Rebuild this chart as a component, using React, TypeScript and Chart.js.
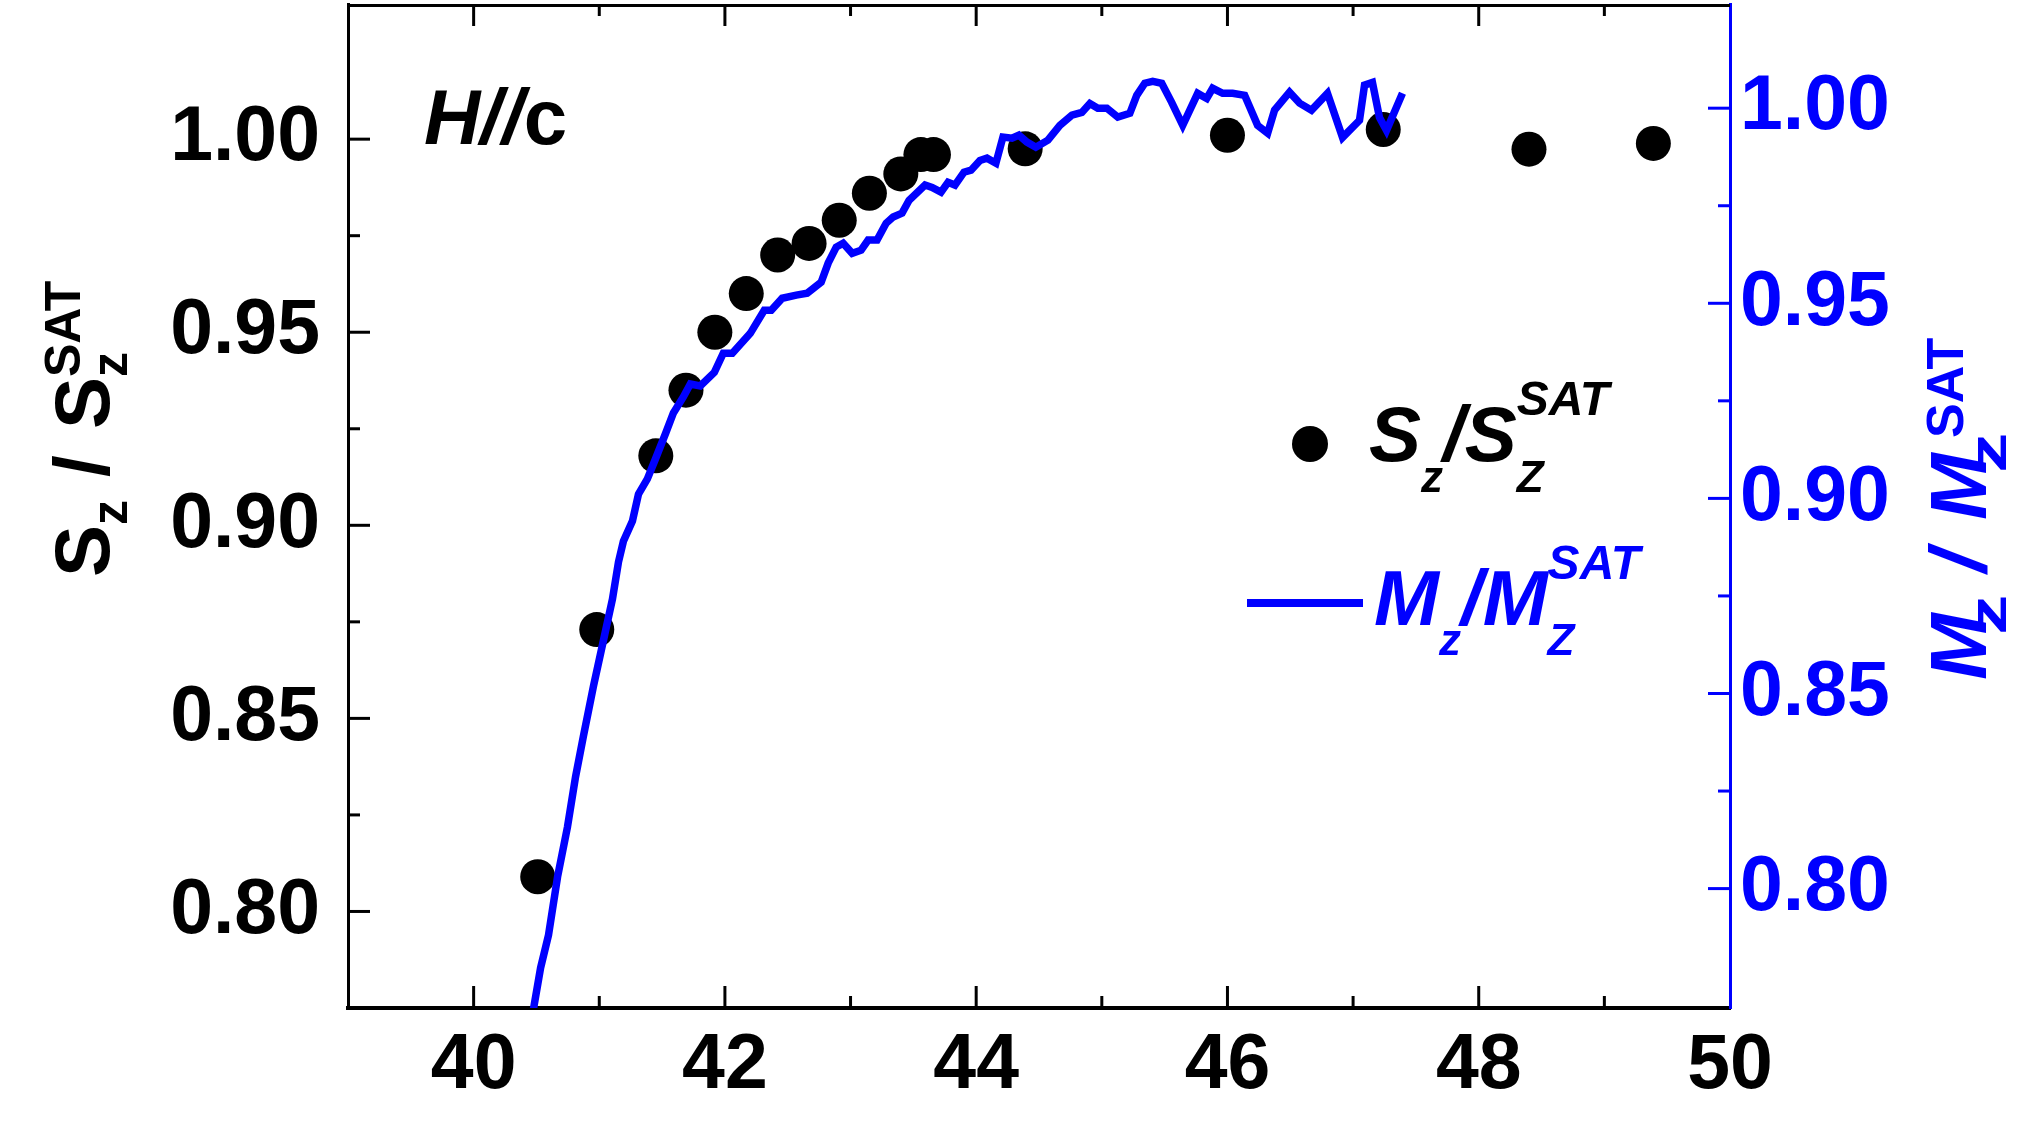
import React, { useEffect, useRef } from 'react';
import { Chart, registerables } from 'chart.js';

Chart.register(...registerables);

const FONT = '"Liberation Sans", Arial, sans-serif';
const BLUE = '#0000ff';

// S_z / S_z^SAT, black dots, left axis
const szField = [40.51, 40.98, 41.45, 41.69, 41.92, 42.17, 42.42, 42.67, 42.91, 43.15, 43.4, 43.56, 43.66, 44.39, 46.0, 47.24, 48.4, 49.39];
const szRatio = [0.809, 0.873, 0.918, 0.935, 0.95, 0.96, 0.97, 0.973, 0.979, 0.986, 0.991, 0.996, 0.996, 0.9975, 1.001, 1.0025, 0.9974, 0.9989];

// M_z / M_z^SAT, blue curve, right axis
const mzField = [
    40.467, 40.533, 40.596, 40.668, 40.747, 40.811, 40.874, 40.954, 41.025, 41.105,
    41.153, 41.192, 41.264, 41.312, 41.383, 41.447, 41.526, 41.59, 41.669, 41.725,
    41.804, 41.916, 41.987, 42.059, 42.202, 42.313, 42.369, 42.456, 42.568, 42.655,
    42.766, 42.822, 42.886, 42.941, 43.013, 43.084, 43.14, 43.211, 43.283, 43.339,
    43.41, 43.466, 43.593, 43.649, 43.72, 43.776, 43.831, 43.903, 43.959, 44.03,
    44.086, 44.157, 44.213, 44.285, 44.34, 44.404, 44.475, 44.571, 44.666, 44.762,
    44.841, 44.905, 44.968, 45.04, 45.127, 45.223, 45.278, 45.342, 45.405, 45.477,
    45.556, 45.644, 45.763, 45.835, 45.882, 45.962, 46.041, 46.137, 46.24, 46.32,
    46.375, 46.494, 46.574, 46.669, 46.796, 46.916, 47.051, 47.091, 47.154, 47.21,
    47.266, 47.393,
];
const mzRatio = [
    0.7674, 0.7797, 0.7881, 0.803, 0.8158, 0.8286, 0.8391, 0.8519, 0.8624, 0.8742,
    0.8837, 0.889, 0.8942, 0.9011, 0.905, 0.9101, 0.9165, 0.9219, 0.926, 0.9293,
    0.9288, 0.9323, 0.9372, 0.9372, 0.9423, 0.9482, 0.9482, 0.9513, 0.9521, 0.9526,
    0.9554, 0.9603, 0.9644, 0.9654, 0.9628, 0.9636, 0.9662, 0.9662, 0.9705, 0.9721,
    0.9731, 0.9764, 0.9803, 0.9797, 0.9785, 0.981, 0.9803, 0.9836, 0.9841, 0.9866,
    0.9872, 0.9859, 0.9926, 0.9923, 0.9931, 0.9913, 0.99, 0.9918, 0.9956, 0.9982,
    0.9989, 1.0012, 1.0, 1.0, 0.9977, 0.9987, 1.0033, 1.0064, 1.0069, 1.0064,
    1.0015, 0.9956, 1.0038, 1.0025, 1.0051, 1.0038, 1.0038, 1.0033, 0.9956, 0.9936,
    0.9995, 1.0041, 1.0013, 0.9995, 1.0038, 0.9925, 0.9969, 1.0059, 1.0066, 0.9976,
    0.9943, 1.0038,
];

const xLabels = ['40', '42', '44', '46', '48', '50'];
const yLabels = ['0.80', '0.85', '0.90', '0.95', '1.00'];

// text piece: at = absolute offset along the baseline, sx = horizontal stretch
type Seg = { t: string; f: string; dy?: number; at?: number; stay?: boolean; sx?: number };

const b = (s: number) => `bold ${s}px ${FONT}`;
const ib = (s: number) => `italic bold ${s}px ${FONT}`;

function rich(ctx: CanvasRenderingContext2D, segs: Seg[], x: number, y: number) {
    let cx = x;
    segs.forEach(s => {
        if (s.at !== undefined) cx = x + s.at;
        ctx.font = s.f;
        const sx = s.sx || 1;
        ctx.save();
        ctx.translate(cx, y + (s.dy || 0));
        ctx.scale(sx, 1);
        ctx.fillText(s.t, 0, 0);
        ctx.restore();
        if (!s.stay) cx += ctx.measureText(s.t).width * sx;
    });
}

// fixed box sizes so the plot area sits where it does in the figure
const fitBox = (w: number | null, h: number | null) => (s: any) => {
    if (w !== null) s.width = w;
    if (h !== null) s.height = h;
    s.paddingTop = 0;
    s.paddingBottom = 0;
    s.paddingLeft = 0;
    s.paddingRight = 0;
};

const decorations = {
    id: 'decorations',
    afterDraw(chart: any) {
        const { ctx, chartArea: a, scales } = chart;
        const seg = (x1: number, y1: number, x2: number, y2: number) => {
            ctx.beginPath();
            ctx.moveTo(x1, y1);
            ctx.lineTo(x2, y2);
            ctx.stroke();
        };
        ctx.save();
        ctx.lineCap = 'butt';

        // top frame
        ctx.strokeStyle = '#000';
        ctx.lineWidth = 3;
        seg(a.left, a.top + 1.5, a.right, a.top + 1.5);

        // inward ticks
        scales.x.ticks.forEach((t: any) => {
            const px = scales.x.getPixelForValue(t.value);
            if (px < a.left + 3 || px > a.right - 3) return;
            const len = t.label ? 22 : 12;
            seg(px, a.bottom, px, a.bottom - len);
            seg(px, a.top, px, a.top + len);
        });
        scales.y.ticks.forEach((t: any) => {
            const py = scales.y.getPixelForValue(t.value);
            if (py < a.top + 3 || py > a.bottom - 3) return;
            seg(a.left, py, a.left + (t.label ? 22 : 12), py);
        });
        ctx.strokeStyle = BLUE;
        scales.y2.ticks.forEach((t: any) => {
            const py = scales.y2.getPixelForValue(t.value);
            if (py < a.top + 3 || py > a.bottom - 3) return;
            seg(a.right, py, a.right - (t.label ? 22 : 12), py);
        });

        ctx.textAlign = 'left';
        ctx.textBaseline = 'alphabetic';

        // H//c
        ctx.fillStyle = '#000';
        rich(ctx, [{ t: 'H', f: ib(78) }, { t: '//', f: ib(78) }, { t: 'c', f: b(78) }], 424, 144);

        // left axis title
        ctx.save();
        ctx.translate(109, 577);
        ctx.rotate(-Math.PI / 2);
        rich(ctx, [
            { t: 'S', f: b(78), at: 0 },
            { t: 'z', f: b(50), dy: 18, at: 52 },
            { t: '/', f: b(78), at: 100 },
            { t: 'S', f: b(78), at: 148 },
            { t: 'z', f: b(50), dy: 18, at: 200 },
            { t: 'SAT', f: b(50), dy: -29, at: 200 },
        ], 0, 0);
        ctx.restore();

        // right axis title
        ctx.save();
        ctx.fillStyle = BLUE;
        ctx.translate(1986, 680);
        ctx.rotate(-Math.PI / 2);
        rich(ctx, [
            { t: 'M', f: ib(80), at: 0 },
            { t: 'z', f: b(54), dy: 20, at: 45, sx: 1.5 },
            { t: '/', f: ib(80), at: 108 },
            { t: 'M', f: ib(80), at: 160 },
            { t: 'z', f: b(54), dy: 20, at: 207, sx: 1.5 },
            { t: 'SAT', f: b(52), dy: -23, at: 242 },
        ], 0, 0);
        ctx.restore();

        // legend
        ctx.fillStyle = '#000';
        ctx.beginPath();
        ctx.arc(1310, 444, 18, 0, Math.PI * 2);
        ctx.fill();
        rich(ctx, [
            { t: 'S', f: ib(78) },
            { t: 'z', f: ib(44), dy: 31 },
            { t: '/', f: ib(78) },
            { t: 'S', f: ib(78) },
            { t: 'Z', f: ib(44), dy: 31, stay: true },
            { t: 'SAT', f: ib(48), dy: -46 },
        ], 1369, 461);

        ctx.strokeStyle = BLUE;
        ctx.lineWidth = 8;
        seg(1247, 603, 1363, 603);
        ctx.fillStyle = BLUE;
        rich(ctx, [
            { t: 'M', f: ib(78) },
            { t: 'z', f: ib(44), dy: 30 },
            { t: '/', f: ib(78) },
            { t: 'M', f: ib(78) },
            { t: 'Z', f: ib(44), dy: 30, stay: true },
            { t: 'SAT', f: ib(48), dy: -46 },
        ], 1374, 625);

        ctx.restore();
    },
};

const tickFont = { family: FONT, size: 77, weight: 'bold' as const };

const yCallback = (v: any) => {
    const s = Number(v).toFixed(2);
    return yLabels.includes(s) && Math.abs(v * 20 - Math.round(v * 20)) < 1e-6 ? s : '';
};

export default function App() {
    const chartRef = useRef<HTMLCanvasElement>(null);

    useEffect(() => {
        if (!chartRef.current) return;

        const chart = new Chart(chartRef.current, {
            type: 'scatter',
            data: {
                datasets: [
                    {
                        label: 'Mz/MzSAT',
                        data: mzField.map((x, i) => ({ x, y: mzRatio[i] })),
                        yAxisID: 'y2',
                        showLine: true,
                        borderColor: BLUE,
                        borderWidth: 7.5,
                        pointRadius: 0,
                        tension: 0,
                        clip: 0,
                    },
                    {
                        label: 'Sz/SzSAT',
                        data: szField.map((x, i) => ({ x, y: szRatio[i] })),
                        yAxisID: 'y',
                        backgroundColor: '#000',
                        borderWidth: 0,
                        pointRadius: 17.5,
                    },
                ],
            },
            options: {
                responsive: true,
                maintainAspectRatio: false,
                animation: false,
                devicePixelRatio: 1,
                layout: { autoPadding: false, padding: { top: 4, left: 0, right: 0, bottom: 0 } },
                plugins: {
                    legend: { display: false },
                    tooltip: { enabled: false },
                },
                scales: {
                    x: {
                        type: 'linear',
                        min: 39,
                        max: 50,
                        afterFit: fitBox(null, 137),
                        grid: { display: true, drawOnChartArea: false, drawTicks: false },
                        border: { display: true, color: '#000', width: 4 },
                        ticks: {
                            stepSize: 1,
                            autoSkip: false,
                            maxRotation: 0,
                            minRotation: 0,
                            padding: 13,
                            color: '#000',
                            font: tickFont,
                            callback: (v: any) => (xLabels.includes(String(v)) ? String(v) : ''),
                        },
                    },
                    y: {
                        type: 'linear',
                        position: 'left',
                        min: 0.775,
                        max: 1.035,
                        afterFit: fitBox(348, null),
                        grid: { display: true, drawOnChartArea: false, drawTicks: false },
                        border: { display: true, color: '#000', width: 3 },
                        ticks: {
                            stepSize: 0.025,
                            autoSkip: false,
                            padding: 28,
                            color: '#000',
                            font: tickFont,
                            callback: yCallback,
                        },
                    },
                    y2: {
                        type: 'linear',
                        position: 'right',
                        min: 0.7694,
                        max: 1.0267,
                        afterFit: fitBox(301, null),
                        grid: { display: true, drawOnChartArea: false, drawTicks: false },
                        border: { display: true, color: BLUE, width: 3 },
                        ticks: {
                            stepSize: 0.025,
                            autoSkip: false,
                            padding: 10,
                            color: BLUE,
                            font: tickFont,
                            callback: yCallback,
                        },
                    },
                },
            },
            plugins: [decorations],
        });

        return () => chart.destroy();
    }, []);

    return (
        <div style={{ position: 'fixed', left: 0, top: 0, width: 2031, height: 1145, background: '#fff' }}>
            <canvas ref={chartRef} />
        </div>
    );
}
